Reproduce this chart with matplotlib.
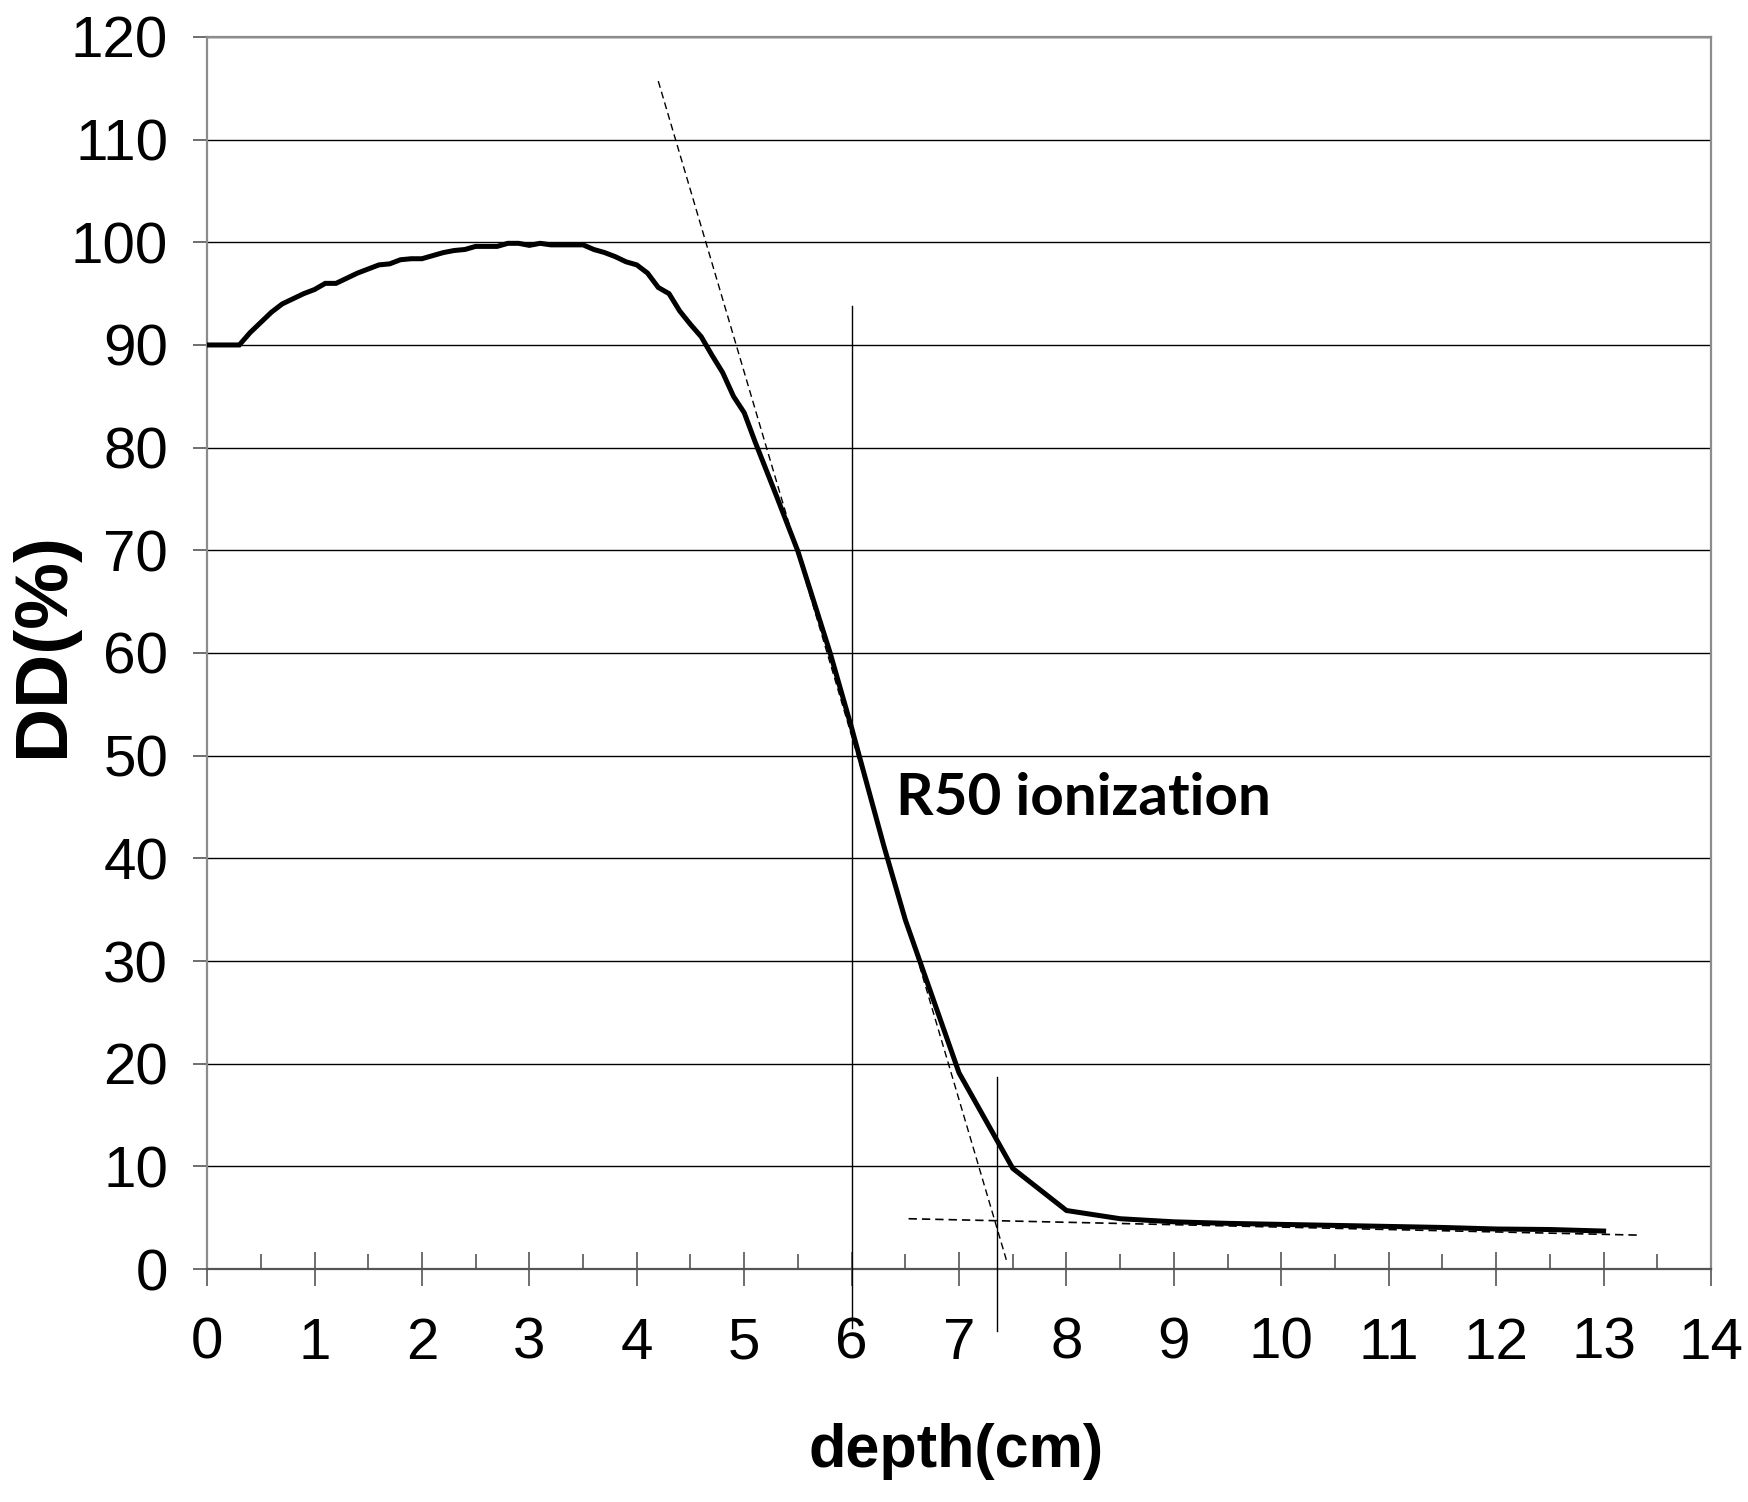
import numpy as np
import matplotlib
matplotlib.use("Agg")
import matplotlib.pyplot as plt
from matplotlib.ticker import MultipleLocator

# depth dose curve
depth = [0.0, 0.3, 0.4, 0.5, 0.6, 0.7, 0.8, 0.9, 1.0, 1.1, 1.2, 1.3, 1.4, 1.5,
         1.6, 1.7, 1.8, 1.9, 2.0, 2.1, 2.2, 2.3, 2.4, 2.5, 2.6, 2.7, 2.8, 2.9,
         3.0, 3.1, 3.2, 3.3, 3.4, 3.5, 3.6, 3.7, 3.8, 3.9, 4.0, 4.1, 4.2, 4.3,
         4.4, 4.5, 4.6, 4.7, 4.8, 4.9, 5.0, 5.1, 5.3, 5.5, 5.8, 6.0, 6.3, 6.5,
         7.0, 7.5, 8.0, 8.5, 9.0, 9.5, 10.0, 10.5, 11.0, 11.5, 12.0, 12.5, 13.0]
dose = [90.0, 90.0, 91.2, 92.2, 93.2, 94.0, 94.5, 95.0, 95.4, 96.0, 96.0, 96.5,
        97.0, 97.4, 97.8, 97.9, 98.3, 98.4, 98.4, 98.7, 99.0, 99.2, 99.3, 99.6,
        99.6, 99.6, 99.9, 99.9, 99.7, 99.9, 99.75, 99.75, 99.75, 99.75, 99.3,
        99.0, 98.6, 98.1, 97.8, 97.0, 95.6, 95.0, 93.3, 92.0, 90.8, 89.0, 87.3,
        85.0, 83.4, 80.6, 75.3, 69.9, 60.0, 52.7, 41.2, 34.0,
        19.1, 9.8, 5.7, 4.9, 4.6, 4.45, 4.35, 4.25, 4.15, 4.05, 3.9, 3.85, 3.7]

# construction lines
tangent_x = [4.20, 7.44]
tangent_y = [115.7, 0.9]
tail_x = [6.53, 13.34]
tail_y = [4.9, 3.3]
r50_x = [6.0, 6.0]
r50_y = [-5.7, 93.8]
rp_x = [7.35, 7.35]
rp_y = [-6.0, 18.7]

narrow = ['Liberation Sans Narrow', 'Liberation Sans', 'DejaVu Sans']
plt.rcParams['font.family'] = narrow

fig = plt.figure(figsize=(17.49, 15.02), dpi=100)
ax = fig.add_axes([0.1184, 0.1551, 0.8599, 0.8203])

ax.set_xlim(0, 14)
ax.set_ylim(0, 120)

ax.yaxis.set_major_locator(MultipleLocator(10))
ax.xaxis.set_major_locator(MultipleLocator(1))
ax.xaxis.set_minor_locator(MultipleLocator(0.5))
ax.grid(axis='y', color='black', linewidth=1.0)
ax.set_axisbelow(True)

for side in ['left', 'top', 'right']:
    ax.spines[side].set_color('#8c8c8c')
    ax.spines[side].set_linewidth(1.6)
ax.spines['bottom'].set_color('#555555')
ax.spines['bottom'].set_linewidth(1.6)

ax.tick_params(axis='y', direction='out', length=10, width=1.2, color='#555555',
               labelsize=42, pad=18)
ax.tick_params(axis='x', which='major', direction='inout', length=25, width=1.2,
               color='#555555', labelsize=42, pad=22)
ax.tick_params(axis='x', which='minor', direction='in', length=11, width=1.2,
               color='#555555')

ax.plot(depth, dose, color='black', linewidth=3.6, solid_joinstyle='miter', zorder=4)
ax.plot(tangent_x, tangent_y, color='black', linewidth=1.0, dashes=(5, 3), zorder=5)
ax.plot(tail_x, tail_y, color='black', linewidth=1.2, dashes=(5, 3), zorder=5)
ax.plot(r50_x, r50_y, color='black', linewidth=1.0, clip_on=False, zorder=3)
ax.plot(rp_x, rp_y, color='black', linewidth=1.0, clip_on=False, zorder=3)

ax.text(6.41, 44.2, 'R50 ionization', fontsize=42, fontweight='bold',
        family=['Lato', 'DejaVu Sans'], ha='left', va='baseline')

ax.set_xlabel('depth(cm)', fontsize=44, fontweight='bold')
ax.set_ylabel('DD(%)', fontsize=54, fontweight='bold')
ax.xaxis.set_label_coords(0.498, -0.125)
ax.yaxis.set_label_coords(-0.0858, 0.507)

fig.savefig('out.png', dpi=100, facecolor='white')
